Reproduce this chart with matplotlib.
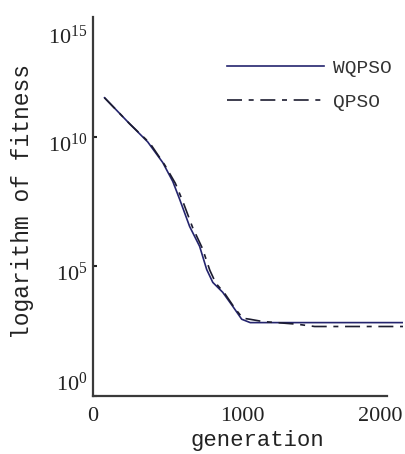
import matplotlib
matplotlib.use("Agg")
import matplotlib.pyplot as plt
import matplotlib.transforms as mtransforms
import numpy as np

# --- data (generation, log10 of fitness) ---
generations_wqpso = [77, 244, 365, 466, 533, 579, 645, 712, 759, 800, 866, 933, 993, 1050, 2070]
log_fitness_wqpso = [11.5, 10.5, 9.8, 9.0, 8.27, 7.58, 6.54, 5.77, 4.88, 4.38, 4.0, 3.46, 2.96, 2.83, 2.83]

generations_qpso = [77, 244, 380, 480, 550, 600, 665, 730, 780, 820, 880, 945, 1000, 1047, 1135, 1250, 1360, 1480, 2070]
log_fitness_qpso = [11.5, 10.5, 9.75, 8.9, 8.2, 7.5, 6.5, 5.7, 4.85, 4.35, 3.95, 3.4, 3.0, 2.96, 2.87, 2.82, 2.77, 2.68, 2.68]

series_labels = ["WQPSO", "QPSO"]
x_ticks = [0, 1000, 2000]
y_tick_exponents = [0, 5, 10, 15]
x_label = "generation"
y_label = "logarithm of fitness"

fitness_wqpso = 10.0 ** np.array(log_fitness_wqpso)
fitness_qpso = 10.0 ** np.array(log_fitness_qpso)

W, H = 406, 454
fig = plt.figure(figsize=(W / 100, H / 100), dpi=100)
fig.patch.set_facecolor("white")

ax_left, ax_bottom_px, ax_top_px, ax_right_px = 93, 396, 7, 403
ax = fig.add_axes([ax_left / W, (H - ax_bottom_px) / H,
                   (ax_right_px - ax_left) / W, (ax_bottom_px - ax_top_px) / H])

ax.plot(generations_wqpso, fitness_wqpso, color="#24246e", lw=1.2,
        label=series_labels[0])
ax.plot(generations_qpso, fitness_qpso, color="#1c1c30", lw=1.2,
        dashes=(9, 4, 3, 4), label=series_labels[1])

ax.set_yscale("log")
ax.set_xlim(0, 2070)
ax.set_ylim(1, 1e15)

for s in ["top", "right"]:
    ax.spines[s].set_visible(False)
for s in ["left", "bottom"]:
    ax.spines[s].set_color("#3a3a3a")
    ax.spines[s].set_linewidth(1.6)
ax.spines["left"].set_bounds(1, 10 ** 14.6)
ax.spines["bottom"].set_bounds(0, 1960)

ax.set_xticks(x_ticks)
ax.set_xticklabels([str(t) for t in x_ticks], fontfamily="Liberation Serif", fontsize=16,
                   color="#222222")
ax.set_yticks([10.0 ** e for e in y_tick_exponents])
ax.set_yticklabels([r"$\mathdefault{10^{%d}}$" % e for e in y_tick_exponents],
                   fontfamily="Liberation Serif", fontsize=16, color="#222222")
ax.yaxis.set_minor_locator(matplotlib.ticker.NullLocator())
ax.tick_params(axis="both", direction="in", length=3, width=1.5, color="#222222")
ax.tick_params(axis="x", pad=8, length=0)
ax.tick_params(axis="y", pad=4)

# tick label nudges (in pixels) to match the reference placement
nudges = [14, -5, -6, -28]
for lab, dy in zip(ax.get_yticklabels(), nudges):
    lab.set_transform(lab.get_transform() +
                      mtransforms.ScaledTranslation(0, dy / 100, fig.dpi_scale_trans))
ax.yaxis.get_major_ticks()[3].tick1line.set_visible(False)
xlabs = ax.get_xticklabels()
xlabs[-1].set_transform(xlabs[-1].get_transform() +
                        mtransforms.ScaledTranslation(-12 / 100, 0, fig.dpi_scale_trans))

ax.set_xlabel(x_label, fontfamily="Liberation Mono", fontsize=16, color="#222222")
ax.xaxis.set_label_coords(0.53, -0.088)
ax.set_ylabel(y_label, fontfamily="Liberation Mono", fontsize=16.5, color="#222222")
ax.yaxis.set_label_coords(-0.19, 0.5)

leg = ax.legend(loc="center", bbox_to_anchor=(309 / W, 1 - 85 / H),
                bbox_transform=fig.transFigure, frameon=False,
                handlelength=5.0, handletextpad=0.45, labelspacing=0.85,
                prop={"family": "Liberation Mono", "size": 14})
for t in leg.get_texts():
    t.set_color("#333333")

fig.savefig("out.png", dpi=100, facecolor="white")
